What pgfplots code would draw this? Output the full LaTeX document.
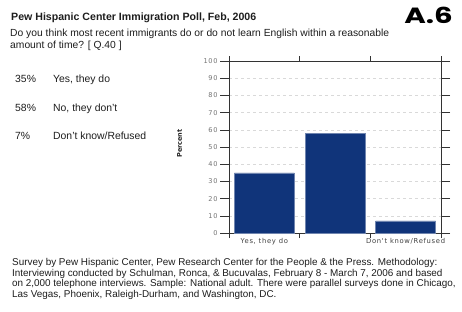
\documentclass[border=0pt]{standalone}
\usepackage{pgfplots}
\pgfplotsset{compat=1.18}
\usepackage{fontspec}
\setmainfont{Liberation Sans}
\newfontfamily\dejavu{DejaVu Sans}
\newfontfamily\ticksf[LetterSpace=10]{DejaVu Sans}
\newfontfamily\poppins{Poppins}
\definecolor{barblue}{RGB}{16,52,122}
\definecolor{txt}{RGB}{30,30,30}
\begin{document}
\begin{tikzpicture}
\useasboundingbox[fill=white] (0pt,0pt) rectangle (462pt,-311pt);
\node[anchor=base west,font=\fontsize{10.6}{12}\selectfont\bfseries,text=txt,inner sep=0] at (11pt,-20.5pt) {Pew Hispanic Center Immigration Poll, Feb, 2006};
\node[anchor=base east,inner sep=0] at (453pt,-23pt) {\scalebox{1.33}[1]{\poppins\bfseries\fontsize{22}{24}\selectfont A.6}};
\node[anchor=base west,font=\fontsize{10.3}{12}\selectfont,text=txt,inner sep=0] at (10pt,-36.5pt) {Do you think most recent immigrants do or do not learn English within a reasonable};
\node[anchor=base west,font=\fontsize{10.3}{12}\selectfont,text=txt,inner sep=0] at (10pt,-48pt) {amount of time? [ Q.40 ]};
\foreach \p/\t/\yy in {35\%/{Yes, they do}/82.5, 58\%/{No, they don't}/111.5, 7\%/{Don't know/Refused}/139.5}{
  \node[anchor=base west,font=\fontsize{10.4}{12}\selectfont,text=txt,inner sep=0] at (15pt,-\yy pt) {\p};
  \node[anchor=base west,font=\fontsize{10.4}{12}\selectfont,text=txt,inner sep=0] at (53pt,-\yy pt) {\t};
}
\foreach \l/\yy in {{Survey by Pew Hispanic Center, Pew Research Center for the People \& the Press. Methodology:}/265.5,
{Interviewing conducted by Schulman, Ronca, \& Bucuvalas, February 8 - March 7, 2006 and based}/276,
{on 2,000 telephone interviews. Sample: National adult. There were parallel surveys done in Chicago,}/286.5,
{Las Vegas, Phoenix, Raleigh-Durham, and Washington, DC.}/297}{
  \node[anchor=base west,font=\fontsize{9.9}{12}\selectfont,text=txt,inner sep=0] at (12pt,-\yy pt) {\l};
}
\begin{axis}[
  at={(229pt,-61pt)}, anchor=north west,
  scale only axis, width=212pt, height=172pt,
  xmin=-0.5, xmax=2.5, ymin=0, ymax=100,
  axis line style={black!80, line width=0.8pt},
  ytick={0,10,...,100},
  ymajorgrids, grid style={dashed, black!15, line width=0.4pt},
  xtick={-0.5,0.5,1.5,2.5}, x tick label as interval,
  xticklabels={{Yes, they do},{},{Don't know/Refused}},
  tick align=outside, major tick length=9pt,
  xtick style={black!80, line width=0.8pt, /pgfplots/major tick length=5pt},
  ytick style={black!80, line width=0.6pt},
  yticklabel style={font=\ticksf\fontsize{6.6}{7}\selectfont, text=black!55, xshift=1pt},
  xticklabel style={font=\ticksf\fontsize{6.8}{7}\selectfont, text=black!75, yshift=7pt},
  /pgf/number format/assume math mode=true,
  ylabel={\dejavu\bfseries Percent}, ylabel style={font=\fontsize{6.5}{7}\selectfont, at={(axis description cs:-0.205,0.52)}, text=black!85},
]
\addplot[ybar, bar width=60pt, fill=barblue, draw=barblue!60!white, line width=0.4pt] coordinates {(0,35) (1,58) (2,7)};
\end{axis}
\end{tikzpicture}
\end{document}
